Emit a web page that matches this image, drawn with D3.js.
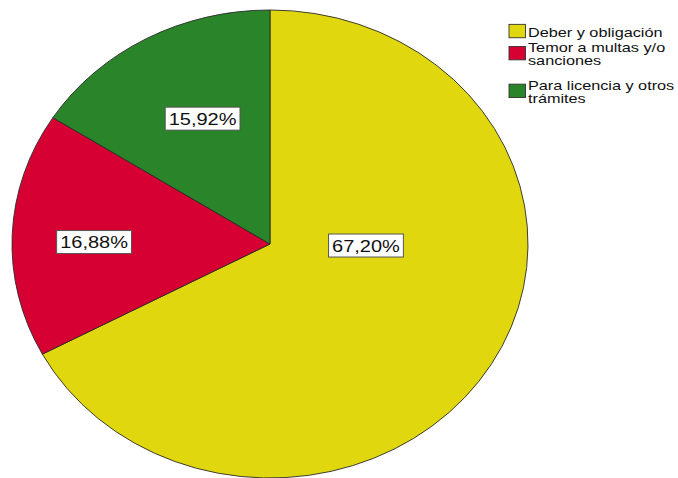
<!DOCTYPE html>
<html>
<head>
<meta charset="utf-8">
<script src="https://cdn.jsdelivr.net/npm/d3@7"></script>
<style>
  html, body { margin: 0; padding: 0; background: #fff; }
  svg { display: block; }
  text { font-family: "Liberation Sans", Arial, sans-serif; fill: #111; }
</style>
</head>
<body>
<svg id="chart" width="678" height="478"></svg>
<script>
// Reasons for complying, share of respondents (%)
const categories = ["Deber y obligación", "Temor a multas y/o sanciones", "Para licencia y otros trámites"];
const shares = [67.20, 16.88, 15.92];
const colors = ["#e1d70f", "#d60032", "#2a8429"];

// Label placement inside each slice: angle (deg, null = slice middle) and radial fraction
const labelPolar = [{ a: 91, f: 0.372 }, { a: 270.7, f: 0.682 }, { a: 334, f: 0.596 }];

const svg = d3.select("#chart");
const cx = 270, cy = 244, rx = 258, ry = 234;
const R = 100;
const stretch = 1.25; // horizontal glyph stretch used by the output renderer

const fmt = v => d3.format(".2f")(v).replace(".", ",") + "%";

const pie = d3.pie().sort(null).value(d => d.v);
const data = categories.map((c, i) => ({ c, v: shares[i], col: colors[i], i }));
const arcs = pie(data);
const arc = d3.arc().innerRadius(0).outerRadius(R);

const g = svg.append("g")
  .attr("transform", `translate(${cx},${cy}) scale(${rx / R},${ry / R})`);

g.selectAll("path.slice")
  .data(arcs)
  .join("path")
  .attr("class", "slice")
  .attr("d", arc)
  .attr("fill", d => d.data.col)
  .attr("stroke", "#2a2a2a")
  .attr("stroke-width", 0.9)
  .attr("vector-effect", "non-scaling-stroke");

// Value labels in white boxes
const lab = svg.append("g");
arcs.forEach((d, i) => {
  const p = labelPolar[i];
  const a = p.a == null ? (d.startAngle + d.endAngle) / 2 : p.a * Math.PI / 180;
  const x = cx + rx * p.f * Math.sin(a);
  const y = cy - ry * p.f * Math.cos(a);
  const lg = lab.append("g").attr("transform", `translate(${x},${y})`);
  const rect = lg.append("rect");
  const t = lg.append("text")
    .attr("text-anchor", "middle")
    .attr("font-size", 16)
    .attr("transform", `scale(${stretch},1)`)
    .attr("y", 6)
    .text(fmt(d.data.v));
  const w = t.node().getComputedTextLength() * stretch;
  rect.attr("x", -w / 2 - 3.5).attr("y", -11.5)
    .attr("width", w + 7).attr("height", 23)
    .attr("fill", "#fff").attr("stroke", "#555").attr("stroke-width", 1);
});

// Legend
const legend = svg.append("g");
const legX = 509, textX = 528, lineH = 13, wrapW = 150;
const firstBaselines = [36.7, 52.3, 90];
data.forEach((d, i) => {
  const words = d.c.split(" ");
  const lines = [];
  let cur = "";
  const probe = legend.append("text").attr("font-size", 13);
  words.forEach(wd => {
    const test = cur ? cur + " " + wd : wd;
    probe.text(test);
    if (probe.node().getComputedTextLength() * stretch > wrapW && cur) {
      lines.push(cur);
      cur = wd;
    } else cur = test;
  });
  lines.push(cur);
  probe.remove();

  const b0 = firstBaselines[i];
  const mid = (b0 - 9.3 + b0 + lineH * (lines.length - 1)) / 2 - 1;
  legend.append("rect")
    .attr("x", legX).attr("y", mid - 6.7)
    .attr("width", 16.5).attr("height", 13.4)
    .attr("fill", d.col).attr("stroke", "#333").attr("stroke-width", 0.9);
  lines.forEach((ln, k) => {
    legend.append("text")
      .attr("font-size", 13)
      .attr("transform", `translate(${textX},${b0 + k * lineH}) scale(${stretch},1)`)
      .text(ln);
  });
});
</script>
</body>
</html>
